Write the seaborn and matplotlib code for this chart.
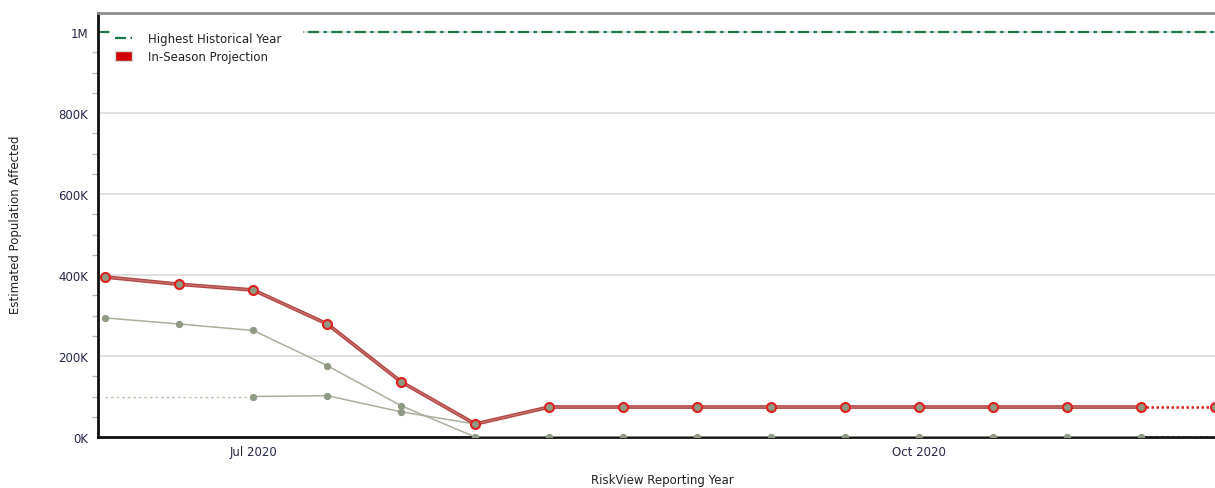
import matplotlib
matplotlib.use("Agg")
import matplotlib.pyplot as plt
from matplotlib.lines import Line2D
from matplotlib.patches import Patch
from matplotlib.ticker import FuncFormatter, MultipleLocator
import numpy as np
import pandas as pd
import seaborn as sns

# Dekadal reporting periods
periods = ["2020-06-11", "2020-06-21", "2020-07-01", "2020-07-11", "2020-07-21",
           "2020-08-01", "2020-08-11", "2020-08-21", "2020-09-01", "2020-09-11",
           "2020-09-21", "2020-10-01", "2020-10-11", "2020-10-21", "2020-11-01",
           "2020-11-11"]

# Estimated population affected (people)
projection = [395000, 377000, 363000, 279000, 136000, 32000, 74000, 74000, 74000,
              74000, 74000, 74000, 74000, 74000, 74000, 74000]
comparison_a = [294000, 279000, 263000, 176000, 77000, 0, 0, 0, 0, 0, 0, 0, 0, 0, 0, 0]
comparison_b = [100000, 100000, 100000, 102000, 62000, 32000]
highest_historical = 1000000

tick_periods = ["2020-08-01", "2020-09-01", "2020-11-01"]
label_periods = {"2020-07-01": "Jul 2020", "2020-10-01": "Oct 2020"}

legend_labels = ["Highest Historical Year", "In-Season Projection"]
x_label = "RiskView Reporting Year"
y_label = "Estimated Population Affected"

sns.set_style("white")
plt.rcParams["font.family"] = ["DejaVu Sans"]

idx = np.arange(len(periods))
n_obs = len(periods) - 1  # last point is the forecast extension

df = pd.DataFrame({"pos": idx, "projection": projection, "comparison_a": comparison_a})
df_b = pd.DataFrame({"pos": idx[2:len(comparison_b)], "value": comparison_b[2:]})
df_b_ref = pd.DataFrame({"pos": idx[:3], "value": comparison_b[:3]})

W, H = 1215, 489
fig = plt.figure(figsize=(W / 100, H / 100), dpi=100)
ax_l, ax_b, ax_t = 98, 438, 14
ax = fig.add_axes([ax_l / W, 1 - ax_b / H, 1 - ax_l / W, (ax_b - ax_t) / H])
ax_w, ax_h = W - ax_l, ax_b - ax_t

grey_line = "#a8b09c"
grey_mark = "#8e9a84"
red_line = "#a82c2c"
red_edge = "#e0201c"
green = "#1b7a43"
green_ls = (0, (5, 2, 1.5, 2))

# Highest historical year reference
ax.axhline(highest_historical, color=green, lw=1.6, ls=green_ls, zorder=2)

# Comparison years
obs = df.iloc[: n_obs]
sns.lineplot(data=obs, x="pos", y="comparison_a", ax=ax, color=grey_line, lw=1.1,
             marker="o", markersize=4.5, markerfacecolor=grey_mark,
             markeredgecolor=grey_mark, zorder=3)
sns.lineplot(data=df.iloc[n_obs - 1:], x="pos", y="comparison_a", ax=ax,
             color=grey_line, lw=1.0, ls=(0, (2, 2)), zorder=3)
sns.lineplot(data=df_b_ref, x="pos", y="value", ax=ax, color="#bcc4ae", lw=1.0,
             ls=(0, (2, 2)), zorder=3)
sns.lineplot(data=df_b, x="pos", y="value", ax=ax, color=grey_line, lw=1.1,
             marker="o", markersize=4.5, markerfacecolor=grey_mark,
             markeredgecolor=grey_mark, zorder=3)

# In-season projection
sns.lineplot(data=obs, x="pos", y="projection", ax=ax, color=red_line, lw=2.7,
             alpha=0.88, zorder=5)
sns.lineplot(data=obs, x="pos", y="projection", ax=ax, color="#cf7d74", lw=0.8,
             alpha=0.85, zorder=5)
sns.lineplot(data=df.iloc[n_obs - 1:], x="pos", y="projection", ax=ax,
             color=red_edge, lw=1.8, ls=(0, (1, 1)), zorder=5)
sns.scatterplot(data=df, x="pos", y="projection", ax=ax, s=42, color=grey_mark,
                edgecolor=red_edge, linewidth=1.5, zorder=6, clip_on=False)

# Axes limits, ticks and grid
ax.set_xlim(-0.1, len(periods) - 1)
ax.set_ylim(0, 1047000)
ax.yaxis.set_major_locator(MultipleLocator(200000))
ax.yaxis.set_minor_locator(MultipleLocator(50000))
ax.yaxis.set_major_formatter(FuncFormatter(
    lambda v, p: "1M" if v >= 1000000 else f"{int(round(v / 1000))}K"))
ax.grid(axis="y", which="major", color="#dcdcdc", lw=1.2)
ax.grid(axis="x", visible=False)

tick_pos = sorted([periods.index(p) for p in list(label_periods) + tick_periods])
ax.set_xticks(tick_pos)
ax.set_xticklabels([label_periods.get(periods[i], "") for i in tick_pos])

ax.tick_params(axis="both", which="major", direction="out", length=5, width=1,
               color="#9a9a9a", labelsize=8.5, labelcolor="#25254a", pad=2)
ax.tick_params(axis="y", which="minor", direction="out", length=4, width=1,
               color="#b8b8b8", left=True)
ax.tick_params(axis="x", which="major", pad=1)

ax.set_xlabel(x_label, fontsize=8.5, color="#222222", va="top")
ax.xaxis.set_label_coords((662 - ax_l) / ax_w, -(474 - ax_b) / ax_h)
ax.set_ylabel(y_label, fontsize=8.5, color="#222222", va="center")
ax.yaxis.set_label_coords((16 - ax_l) / ax_w, 1 - (225 - ax_t) / ax_h)

for side in ["left", "bottom"]:
    ax.spines[side].set_color("#111111")
    ax.spines[side].set_linewidth(2.0)
ax.spines["top"].set_color("#8c8c8c")
ax.spines["top"].set_linewidth(2.0)
ax.spines["right"].set_visible(False)

handles = [
    Line2D([0], [0], color=green, lw=1.6, ls=green_ls),
    Patch(facecolor="#d00000", edgecolor="#d8d8d8", lw=1.0),
]
leg_box = ((111 - ax_l) / ax_w, 1 - (29 - ax_t) / ax_h - 0.09, (302 - 111) / ax_w, 0.09)
leg = ax.legend(handles, legend_labels, loc="upper left", bbox_to_anchor=leg_box,
                mode="expand", frameon=True, framealpha=1.0, edgecolor="white",
                facecolor="white", fontsize=8.5, handlelength=1.4, handleheight=0.9,
                labelspacing=0.4, borderpad=0.35, handletextpad=1.4, borderaxespad=0.0)
for t in leg.get_texts():
    t.set_color("#222222")

fig.savefig("out.png", dpi=100)
